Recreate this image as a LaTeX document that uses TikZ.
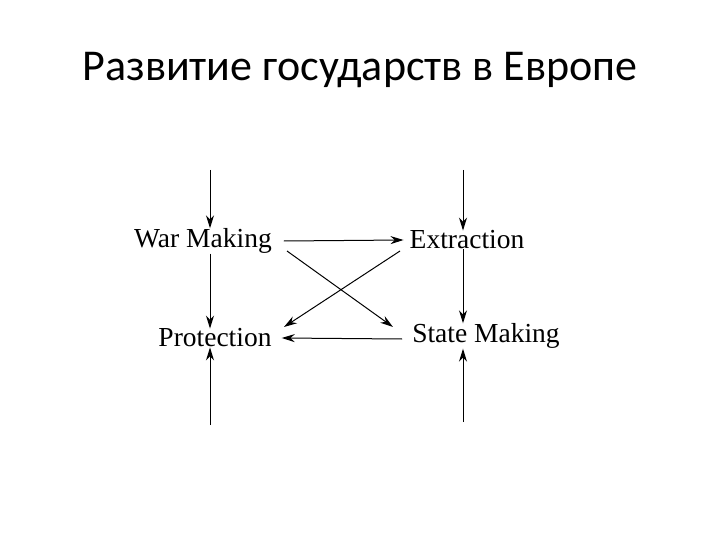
\documentclass[tikz,border=0pt]{standalone}
\usepackage{fontspec}
\setmainfont{Liberation Serif}
\newfontfamily\titlefont{Carlito}
\usetikzlibrary{arrows.meta,calc}
\begin{document}
\begin{tikzpicture}[x=1pt,y=-1pt,
  lbl/.style={font=\fontsize{27.5}{30}\selectfont, inner sep=0pt},
  arr/.style={line width=1pt, -{Stealth[length=13pt,width=8pt]}}]
\useasboundingbox (0,0) rectangle (720,540);
\node[font=\titlefont\fontsize{44}{50}\selectfont] (t) at (360,70) {Развитие государств в Европе};
\node[lbl] (wm) at (203,241) {War Making};
\node[lbl] (ex) at (467,240) {Extraction};
\node[lbl] (pr) at (215,338) {Protection};
\node[lbl] (sm) at (486,336) {State Making};
\coordinate (wt) at (210,170);
\coordinate (et) at (463,170);
\coordinate (pb) at (210,425);
\coordinate (sb) at (463,422);
\draw[arr] (wt) -- (wm.north -| wt);
\draw[arr] (wm.south -| wt) -- (pr.north -| wt);
\draw[arr] (pb) -- (pr.south -| pb);
\draw[arr] (et) -- (ex.north -| et);
\draw[arr] (ex.south -| et) -- (sm.north -| et);
\draw[arr] (sb) -- (sm.south -| sb);
\draw[arr] ($(wm.east)+(12,0)$) -- ($(ex.west)+(-6,0)$);
\draw[arr] ($(sm.west)+(-10,3)$) -- ($(pr.east)+(10,0)$);
\draw[arr] (287,251) -- (393,327);
\draw[arr] (400,251) -- (284,327);
\end{tikzpicture}
\end{document}
